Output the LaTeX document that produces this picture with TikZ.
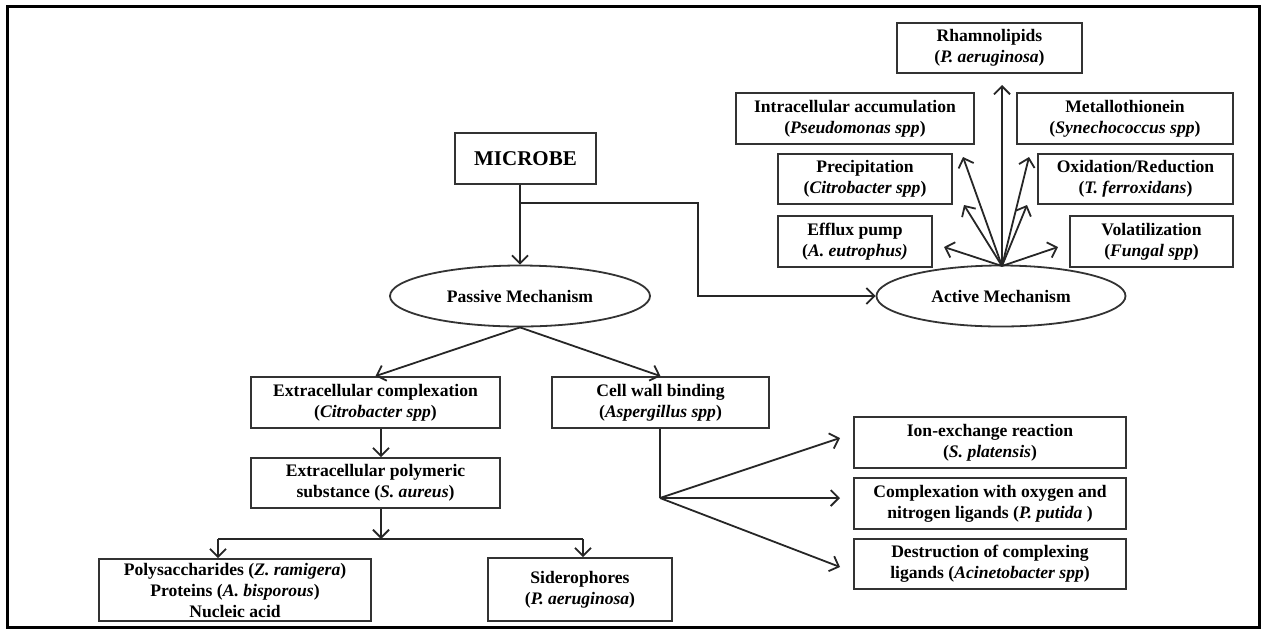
\documentclass[tikz,border=0pt]{standalone}
\usepackage{fontspec}
\setmainfont{Liberation Serif}
\usetikzlibrary{arrows.meta,shapes.geometric}
\begin{document}
\begin{tikzpicture}[x=0.5pt,y=-0.5pt,
  every node/.style={font=\bfseries\fontsize{8.8}{10.5}\selectfont},
  bx/.style={draw=black!80,line width=0.9pt,rectangle,align=center,inner sep=1pt},
  ell/.style={draw=black!80,line width=0.9pt,ellipse,inner sep=0pt},
  arr/.style={draw=black!85,line width=0.9pt,-{Straight Barb[length=4pt,width=8pt]}},
  ln/.style={draw=black!85,line width=0.9pt}]
\useasboundingbox (0,0) rectangle (1263,628);
\draw[line width=1.5pt] (7,6) rectangle (1259,627);

% top nodes
\node[bx,minimum width=70.5pt,minimum height=25.5pt,font=\bfseries\fontsize{10.5}{12}\selectfont] (mic) at (525.5,158.5) {MICROBE};
\node[ell,minimum width=130pt,minimum height=30.5pt] (pas) at (520,296) {Passive Mechanism};
\node[ell,minimum width=124.5pt,minimum height=30.5pt] (act) at (1001,296) {Active Mechanism};

% active mechanism boxes
\node[bx,minimum width=92.5pt,minimum height=25pt] (rham) at (989.5,48) {Rhamnolipids\\(\textit{P. aeruginosa})};
\node[bx,minimum width=119pt,minimum height=25.5pt] (intra) at (855,118.5) {Intracellular accumulation\\(\textit{Pseudomonas spp})};
\node[bx,minimum width=108pt,minimum height=25.5pt] (metal) at (1125,118.5) {Metallothionein\\(\textit{Synechococcus spp})};
\node[bx,minimum width=87pt,minimum height=25pt] (prec) at (865,179) {Precipitation\\(\textit{Citrobacter spp})};
\node[bx,minimum width=97.5pt,minimum height=25pt] (oxid) at (1135.5,179) {Oxidation/Reduction\\(\textit{T. ferroxidans})};
\node[bx,minimum width=77pt,minimum height=25.5pt] (efflux) at (855,241.5) {Efflux pump\\(\textit{A. eutrophus)}};
\node[bx,minimum width=81.5pt,minimum height=25.5pt] (volat) at (1151.5,241.5) {Volatilization\\(\textit{Fungal spp})};

% passive mechanism boxes
\node[bx,minimum width=124.5pt,minimum height=25.5pt] (extc) at (375.5,402.5) {Extracellular complexation\\(\textit{Citrobacter spp})};
\node[bx,minimum width=108.5pt,minimum height=25.5pt] (cell) at (660.5,402.5) {Cell wall binding\\(\textit{Aspergillus spp})};
\node[bx,minimum width=124.5pt,minimum height=25pt] (eps) at (375.5,483) {Extracellular polymeric\\substance (\textit{S. aureus})};
\node[bx,minimum width=136pt,minimum height=31pt] (poly) at (235,590) {Polysaccharides (\textit{Z. ramigera})\\Proteins (\textit{A. bisporous})\\Nucleic acid};
\node[bx,minimum width=92pt,minimum height=31.5pt] (sid) at (580,589.5) {Siderophores\\(\textit{P. aeruginosa})};
\node[bx,minimum width=136pt,minimum height=25.5pt] (ion) at (990,442.5) {Ion-exchange reaction\\(\textit{S. platensis})};
\node[bx,minimum width=136pt,minimum height=25.5pt] (cplx) at (990,503.5) {Complexation with oxygen and\\nitrogen ligands (\textit{P. putida} )};
\node[bx,minimum width=136pt,minimum height=25pt] (destr) at (990,564) {Destruction of complexing\\ligands (\textit{Acinetobacter spp})};

% coordinates
\coordinate (br) at (520,203);
\coordinate (bend) at (698,296);
\coordinate (tR) at (1002,85);
\coordinate (tI) at (963,157);
\coordinate (tP) at (964,205);
\coordinate (tE) at (944,247);
\coordinate (tM) at (1029,157);
\coordinate (tO) at (1027,205);
\coordinate (tV) at (1058,247);
\coordinate (src) at (1002,266);
\coordinate (jM) at (381,539);
\coordinate (jL) at (218,539);
\coordinate (jR) at (583,539);
\coordinate (cw) at (660,498);
\coordinate (ti) at (840,438);
\coordinate (tc) at (840,498);
\coordinate (td) at (840,567);

% microbe connectors
\draw[arr] (mic.south -| pas.north) -- (pas.north);
\draw[arr] (br) -| (bend) -- (act.west);

% active fan
\foreach \t in {tR,tI,tP,tE,tM,tO,tV} \draw[arr] (src) -- (\t);

% passive connectors
\draw[arr] (pas.south) -- (extc.north);
\draw[arr] (pas.south) -- (cell.north);
\draw[arr] (extc.south -| jM) -- (eps.north -| jM);
\draw[arr] (eps.south -| jM) -- (jM);
\draw[ln] (jL) -- (jR);
\draw[arr] (jL) -- (jL |- poly.north);
\draw[arr] (jR) -- (jR |- sid.north);

% cell wall fan
\draw[ln] (cell.south -| cw) -- (cw);
\draw[arr] (cw) -- (ti);
\draw[arr] (cw) -- (tc);
\draw[arr] (cw) -- (td);
\end{tikzpicture}
\end{document}
